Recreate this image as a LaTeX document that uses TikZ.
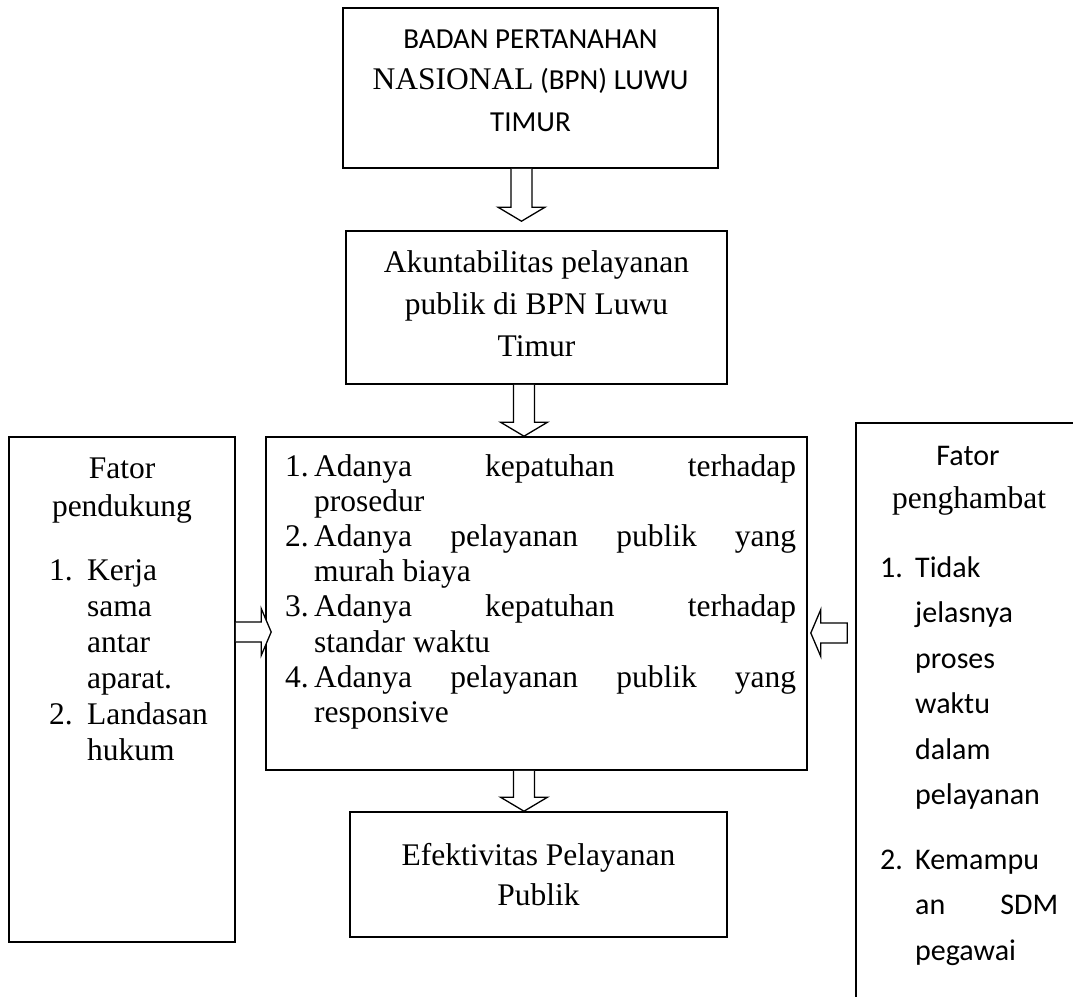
\documentclass[tikz,border=0pt]{standalone}
\usepackage{fontspec}
\setmainfont{Liberation Serif}
\newfontfamily\calfont{Carlito}
\usetikzlibrary{calc}
\tikzset{
  box/.style={draw, line width=1.6pt, inner sep=0pt},
  blk/.style={draw, line width=1.3pt, fill=white, line join=miter},
  tm/.style={inner sep=0pt, anchor=base, font=\fontsize{31.5}{36}\selectfont},
  tml/.style={tm, anchor=base west},
  cb/.style={inner sep=0pt, anchor=base, font=\calfont\fontsize{29}{36}\selectfont},
  cbl/.style={cb, anchor=base west},
}
\newcommand\blockdown[4]{%
  \draw[blk] ($(#1.south -| #3)+(-10.5,0)$) -- ($(#2.north -| #3)+(-10.5,-14-#4)$)
    -- ($(#2.north -| #3)+(-23.5,-14-#4)$) -- ($(#2.north -| #3)+(0,-#4)$)
    -- ($(#2.north -| #3)+(23.5,-14-#4)$) -- ($(#2.north -| #3)+(10.5,-14-#4)$)
    -- ($(#1.south -| #3)+(10.5,0)$);}
\begin{document}
\begin{tikzpicture}[x=1pt,y=-1pt]
\useasboundingbox (0,0) rectangle (1073,996);
\clip (0,0) rectangle (1073,996);
\fill[white] (0,0) rectangle (1073,996);
% boxes
\node[box, minimum width=375pt, minimum height=160pt] (bpn) at (530.5,88) {};
\node[box, minimum width=381pt, minimum height=153pt] (akun) at (536.5,307.5) {};
\node[box, minimum width=541pt, minimum height=333pt] (prog) at (536.5,603.5) {};
\node[box, minimum width=377pt, minimum height=125pt] (efek) at (538.5,874.5) {};
\node[box, minimum width=226pt, minimum height=505pt] (dukung) at (122,689.5) {};
\node[box, minimum width=229pt, minimum height=582pt] (hambat) at (970.5,714) {};
% top box text
\node[cb] (bpn1) at (530.5,48) {BADAN PERTANAHAN};
\node[cb] (bpn2) at (530.5,89) {{\rmfamily\fontsize{31.5}{36}\selectfont NASIONAL} (BPN) LUWU};
\node[cb] (bpn3) at (530.5,131) {TIMUR};
% box 2
\node[tm] (ak1) at (536.5,272) {Akuntabilitas pelayanan};
\node[tm] (ak2) at (536.5,314) {publik di BPN Luwu};
\node[tm] (ak3) at (536.5,356) {Timur};
% box 3
\node[tml] (p1n) at (285,476) {1.};
\node[tml] (p1) at (314,476) {\makebox[482pt][s]{Adanya kepatuhan terhadap}};
\node[tml] (p1b) at (314,511) {prosedur};
\node[tml] (p2n) at (285,546) {2.};
\node[tml] (p2) at (314,546) {\makebox[482pt][s]{Adanya pelayanan publik yang}};
\node[tml] (p2b) at (314,581) {murah biaya};
\node[tml] (p3n) at (285,616) {3.};
\node[tml] (p3) at (314,616) {\makebox[482pt][s]{Adanya kepatuhan terhadap}};
\node[tml] (p3b) at (314,652) {standar waktu};
\node[tml] (p4n) at (285,687) {4.};
\node[tml] (p4) at (314,687) {\makebox[482pt][s]{Adanya pelayanan publik yang}};
\node[tml] (p4b) at (314,722) {responsive};
% box 4
\node[tm] (ef1) at (538.5,865) {Efektivitas Pelayanan};
\node[tm] (ef2) at (538.5,905) {Publik};
% left box
\node[tm] (d0) at (122,478) {Fator};
\node[tm] (d00) at (122,516) {pendukung};
\node[tml] (d1n) at (49,580) {1.};
\node[tml] (d1a) at (87,580) {Kerja};
\node[tml] (d1b) at (87,616) {sama};
\node[tml] (d1c) at (87,652) {antar};
\node[tml] (d1d) at (87,688) {aparat.};
\node[tml] (d2n) at (49,724) {2.};
\node[tml] (d2a) at (87,724) {Landasan};
\node[tml] (d2b) at (87,760) {hukum};
% right box
\node[cb, font=\calfont\fontsize{30}{36}\selectfont] (h0) at (968,465) {Fator};
\node[tm] (h00) at (969,508) {penghambat};
\begin{scope}[every node/.style={cbl, font=\calfont\fontsize{30}{36}\selectfont}]
\node (h1n) at (880,577) {1.};
\node (h1a) at (915,577) {Tidak};
\node (h1b) at (915,622.5) {jelasnya};
\node (h1c) at (915,668) {proses};
\node (h1d) at (915,713.5) {waktu};
\node (h1e) at (915,759) {dalam};
\node (h1f) at (915,804.5) {pelayanan};
\node (h2n) at (880,869) {2.};
\node (h2a) at (915,869) {Kemampu};
\node (h2b) at (915,914.5) {\makebox[143pt][s]{an SDM}};
\node (h2c) at (915,960) {pegawai};
\end{scope}
% arrows
\coordinate (xa) at (521.5,0);
\coordinate (xb) at (524,0);
\blockdown{bpn}{akun}{xa}{9}
\blockdown{akun}{prog}{xb}{0}
\blockdown{prog}{efek}{xb}{0}
\coordinate (ya) at (0,632);
\coordinate (yb) at (0,633);
\draw[blk] ($(dukung.east |- ya)+(0,-10)$) -- ($(prog.west |- ya)+(-4,-10)$)
  -- ($(prog.west |- ya)+(-4,-23.5)$) -- ($(prog.west |- ya)+(6,0)$)
  -- ($(prog.west |- ya)+(-4,23.5)$) -- ($(prog.west |- ya)+(-4,10)$)
  -- ($(dukung.east |- ya)+(0,10)$);
\draw[blk] ($(hambat.west |- yb)+(-8,-10)$) -- ($(prog.east |- yb)+(13,-10)$)
  -- ($(prog.east |- yb)+(13,-23.5)$) -- ($(prog.east |- yb)+(3,0)$)
  -- ($(prog.east |- yb)+(13,23.5)$) -- ($(prog.east |- yb)+(13,10)$)
  -- ($(hambat.west |- yb)+(-8,10)$) -- cycle;
\end{tikzpicture}
\end{document}
